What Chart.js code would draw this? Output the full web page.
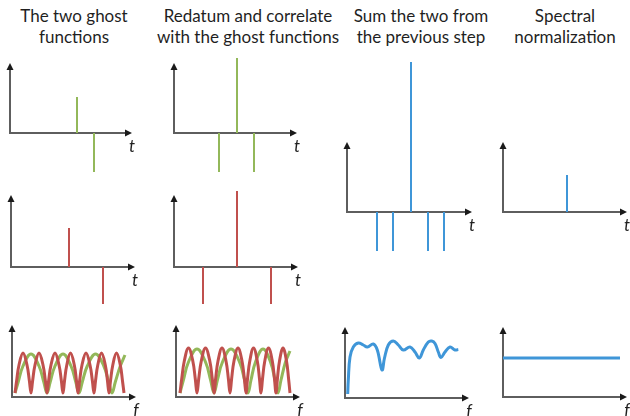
<!DOCTYPE html>
<html>
<head>
<meta charset="utf-8">
<script src="https://cdn.jsdelivr.net/npm/chart.js@4.4.1/dist/chart.umd.min.js"></script>
<style>
  html, body { margin: 0; padding: 0; background: #fff; }
  #page { position: relative; width: 630px; height: 416px; overflow: hidden; }
  #page canvas { position: absolute; }
  .title {
    position: absolute; top: 5px; width: 200px;
    font-family: Lato, "Open Sans", sans-serif; font-size: 17px; line-height: 21px;
    color: #1f1f1f; text-align: center; white-space: nowrap;
  }
</style>
</head>
<body>
<div id="page"></div>
<script>
// column titles
const titles = [
  ['The two ghost', 'functions'],
  ['Redatum and correlate', 'with the ghost functions'],
  ['Sum the two from', 'the previous step'],
  ['Spectral', 'normalization']
];

// spikes (time, amplitude)
const ghostGreenT = [67, 84];
const ghostGreenAmp = [36, -39];
const ghostRedT = [58, 92];
const ghostRedAmp = [39, -37];
const corrGreenT = [63, 45, 80];
const corrGreenAmp = [75, -39, -39];
const corrRedT = [63, 29, 97];
const corrRedAmp = [76, -37, -37];
const sumT = [64, 30, 46, 81, 97];
const sumAmp = [150, -39, -39, -39, -39];
const normT = [64];
const normAmp = [37];

// amplitude spectra (frequency, amplitude)
const specGreenF1 = [3, 6.2, 11, 19, 27, 31.8, 35, 38.2, 43, 51, 59, 63.8, 67, 70.3, 75.3, 83.5, 91.8, 96.7, 100, 103.3, 108.3, 113];
const specGreenA1 = [4, 15, 31, 43, 31, 15, 4, 15, 31, 43, 31, 15, 4, 15, 31, 43, 31, 15, 4, 15, 31, 42];
const specRedF1 = [3, 4.6, 7, 11, 15, 17.4, 19, 20.6, 23, 27, 31, 33.4, 35, 36.6, 39, 43, 47, 49.4, 51,
  52.5, 54.8, 58.5, 62.3, 64.5, 66, 67.6, 70, 74, 78, 80.4, 82, 83.5, 85.8, 89.5, 93.3, 95.5, 97,
  98.5, 100.8, 104.5, 108.3, 110.5, 112];
const specRedA1 = [4, 16, 32, 44, 32, 16, 4, 16, 32, 44, 32, 16, 4, 16, 32, 44, 32, 16, 4,
  16, 32, 44, 32, 16, 4, 16, 32, 44, 32, 16, 4, 16, 32, 44, 32, 16, 4,
  16, 32, 44, 32, 16, 4];
const specGreenF2 = [4, 7.4, 12.5, 21, 29.5, 34.6, 38, 41.4, 46.5, 55, 63.5, 68.6, 72, 75, 79.5, 87, 94.5, 99, 102, 105, 109.5, 114];
const specGreenA2 = [4, 17, 35, 48, 35, 17, 4, 17, 35, 48, 35, 17, 4, 17, 35, 48, 35, 17, 4, 17, 35, 46];
const specRedF2 = [4, 5.7, 8.3, 12.5, 16.8, 19.3, 21, 22.7, 25.3, 29.5, 33.8, 36.3, 38, 39.6, 42, 46, 50, 52.4, 54,
  55.6, 58, 62, 66, 68.4, 70, 71.5, 73.8, 77.5, 81.3, 83.5, 85, 86.5, 88.8, 92.5, 96.3, 98.5, 100,
  101.4, 103.5, 107, 110.5, 112.6, 114];
const specRedA2 = [4, 18, 36, 49, 36, 18, 4, 18, 36, 49, 36, 18, 4, 18, 36, 49, 36, 18, 4,
  18, 36, 49, 36, 18, 4, 18, 36, 49, 36, 18, 4, 18, 36, 49, 36, 18, 4,
  18, 36, 49, 36, 18, 4];
const sumSpecF = [2.7, 3.3, 5, 8.3, 13.3, 18.3, 22.3, 28.3, 32.3, 37, 39.5, 43.3, 48.3, 53.3, 58.3, 65, 70, 74.3,
  78.3, 83.3, 86.7, 90, 93.3, 96, 100, 105, 110, 113.3];
const sumSpecA = [4, 18, 41, 51, 55, 53, 51, 54, 48, 28, 40, 53, 57, 53, 48, 51, 46, 40,
  48, 56, 57, 54.5, 46, 40.5, 46, 51, 48, 48.5];
const normSpecF = [0, 117];
const normSpecA = [39, 39];

const GREEN = '#93b85a';
const RED = '#c0504d';
const BLUE = '#3f96d8';

function spikes(times, amps) {
  const pts = [];
  times.forEach((t, i) => {
    pts.push({x: t, y: 0}, {x: t, y: amps[i]}, {x: t, y: null});
  });
  return pts;
}

function curve(f, a) {
  return f.map((v, i) => ({x: v, y: a[i]}));
}

function spikeSet(times, amps, color) {
  return {data: spikes(times, amps), borderColor: color, borderWidth: 2, tension: 0};
}

function curveSet(f, a, color) {
  return {data: curve(f, a), borderColor: color, borderWidth: 3, tension: 0.4};
}

// draws the two arrowed axes and the axis letter
const arrowAxes = {
  id: 'arrowAxes',
  beforeDatasetsDraw(chart, args, opts) {
    const ctx = chart.ctx;
    const xs = chart.scales.x, ys = chart.scales.y;
    const x0 = xs.getPixelForValue(0), y0 = ys.getPixelForValue(0);
    const x1 = xs.getPixelForValue(opts.xLen), y1 = ys.getPixelForValue(opts.yLen);
    ctx.save();
    ctx.strokeStyle = '#5e5e5e';
    ctx.lineWidth = 2;
    ctx.beginPath();
    ctx.moveTo(x0, y1 + 5);
    ctx.lineTo(x0, y0);
    ctx.lineTo(x1 - 5, y0);
    ctx.stroke();
    ctx.fillStyle = '#1a1a1a';
    ctx.beginPath();
    ctx.moveTo(x0, y1);
    ctx.lineTo(x0 - 3.5, y1 + 7);
    ctx.lineTo(x0 + 3.5, y1 + 7);
    ctx.closePath();
    ctx.fill();
    ctx.beginPath();
    ctx.moveTo(x1, y0);
    ctx.lineTo(x1 - 7, y0 - 3.5);
    ctx.lineTo(x1 - 7, y0 + 3.5);
    ctx.closePath();
    ctx.fill();
    ctx.font = 'italic 17px Lato, "Open Sans", sans-serif';
    ctx.fillStyle = '#1f1f1f';
    ctx.textAlign = 'center';
    ctx.textBaseline = 'middle';
    ctx.fillText(opts.label, x1, y0 + 14);
    ctx.restore();
  }
};

// panel layout: origin (ox, oy), axis lengths, canvas box
const panels = [
  {ox: 10, oy: 133, ax: 122, ay: 70, top: 48, h: 130, label: 't', sets: [spikeSet(ghostGreenT, ghostGreenAmp, GREEN)]},
  {ox: 11, oy: 267, ax: 124, ay: 72, top: 182, h: 130, label: 't', sets: [spikeSet(ghostRedT, ghostRedAmp, RED)]},
  {ox: 12, oy: 397, ax: 124, ay: 72, top: 315, h: 101, label: 'f',
    sets: [curveSet(specRedF1, specRedA1, RED), curveSet(specGreenF1, specGreenA1, GREEN)]},
  {ox: 174, oy: 133, ax: 123, ay: 70, top: 48, h: 130, label: 't', sets: [spikeSet(corrGreenT, corrGreenAmp, GREEN)]},
  {ox: 174, oy: 267, ax: 124, ay: 72, top: 182, h: 130, label: 't', sets: [spikeSet(corrRedT, corrRedAmp, RED)]},
  {ox: 176, oy: 397, ax: 124, ay: 72, top: 315, h: 101, label: 'f',
    sets: [curveSet(specRedF2, specRedA2, RED), curveSet(specGreenF2, specGreenA2, GREEN)]},
  {ox: 347, oy: 212, ax: 125, ay: 70, top: 52, h: 210, label: 't', sets: [spikeSet(sumT, sumAmp, BLUE)]},
  {ox: 345, oy: 398, ax: 124, ay: 71, top: 315, h: 101, label: 'f', sets: [curveSet(sumSpecF, sumSpecA, BLUE)]},
  {ox: 503, oy: 212, ax: 124, ay: 70, top: 130, h: 110, label: 't', sets: [spikeSet(normT, normAmp, BLUE)]},
  {ox: 503, oy: 397, ax: 124, ay: 70, top: 315, h: 101, label: 'f', sets: [curveSet(normSpecF, normSpecA, BLUE)]}
];

const page = document.getElementById('page');

const titleCenters = [74, 248, 421, 565];
titles.forEach((lines, i) => {
  const div = document.createElement('div');
  div.className = 'title';
  div.style.left = (titleCenters[i] - 100) + 'px';
  div.innerHTML = lines.join('<br>');
  page.appendChild(div);
});

panels.forEach(p => {
  const left = p.ox - 8;
  const w = p.ax + 16;
  const canvas = document.createElement('canvas');
  canvas.width = w;
  canvas.height = p.h;
  canvas.style.left = left + 'px';
  canvas.style.top = p.top + 'px';
  page.appendChild(canvas);

  new Chart(canvas, {
    type: 'line',
    data: {datasets: p.sets},
    options: {
      responsive: false,
      animation: false,
      devicePixelRatio: 1,
      events: [],
      layout: {padding: 0},
      elements: {point: {radius: 0}},
      plugins: {
        legend: {display: false},
        tooltip: {enabled: false},
        arrowAxes: {xLen: p.ax, yLen: p.ay, label: p.label}
      },
      scales: {
        x: {type: 'linear', display: false, min: left - p.ox, max: left + w - p.ox},
        y: {type: 'linear', display: false, min: p.oy - (p.top + p.h), max: p.oy - p.top}
      }
    },
    plugins: [arrowAxes]
  });
});
</script>
</body>
</html>
